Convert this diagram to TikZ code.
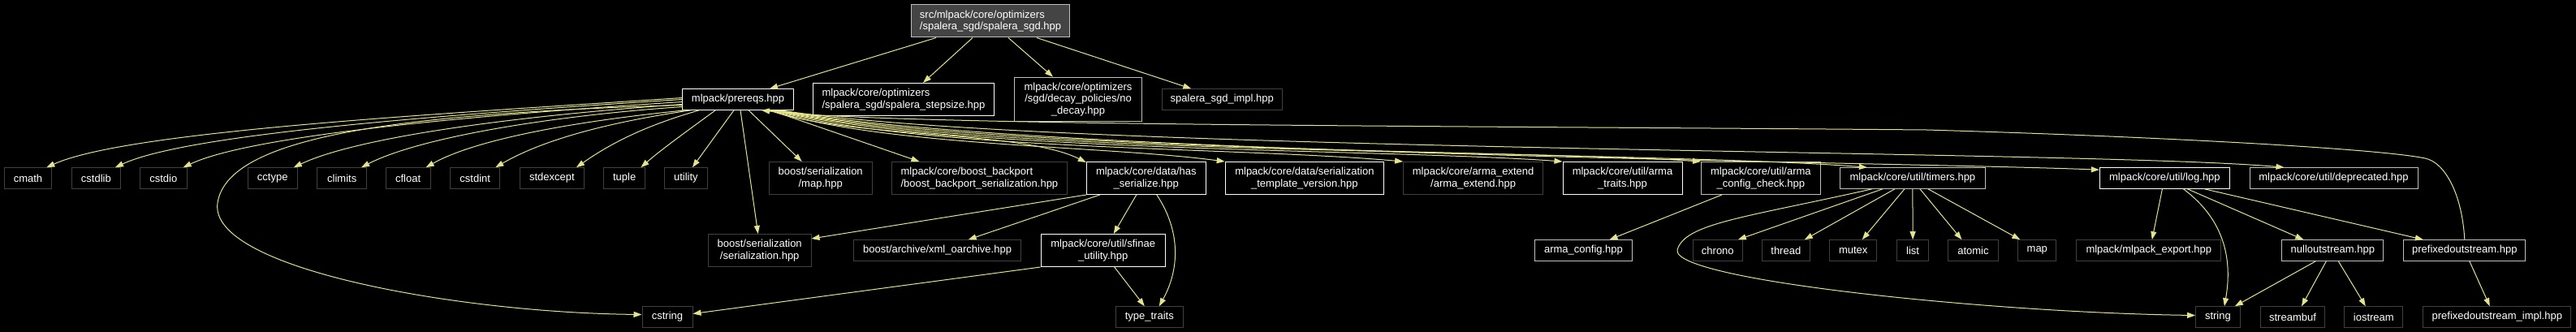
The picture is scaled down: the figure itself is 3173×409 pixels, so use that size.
\documentclass[tikz,border=0pt]{standalone}
\usepackage{fontspec}
\usetikzlibrary{arrows.meta}
\newfontfamily\incfont{Liberation Sans}
\definecolor{edgecol}{RGB}{228,228,142}
\definecolor{litgray}{RGB}{191,191,191}
\definecolor{drkgray}{RGB}{64,64,64}
\definecolor{topfill}{RGB}{68,68,68}
\tikzset{
  box/.style={draw, line width=1pt, text=white, align=center, inner sep=0pt,
    minimum height=25.6pt, font={\incfont\fontsize{13pt}{14.4pt}\selectfont}},
  docbox/.style={box, draw=white},
  grybox/.style={box, draw=litgray},
  sysbox/.style={box, draw=drkgray},
  topbox/.style={box, draw=litgray, fill=topfill},
  two/.style={minimum height=40pt},
  three/.style={minimum height=54.7pt},
  incl/.style={draw=edgecol, line width=1pt, -{Triangle[length=10pt,width=7pt]}}
}
\begin{document}
\begin{tikzpicture}[x=1pt,y=-1pt]
\fill[black] (0,0) rectangle (3173,409);
\node[topbox, two, align=left, minimum width=194.5] (spalera) at (1220,26) {src/mlpack/core/optimizers\\/spalera\_sgd/spalera\_sgd.hpp};

\node[docbox, minimum width=136.5] (prereqs) at (909,122.5) {mlpack/prereqs.hpp};
\node[docbox, two, align=left, minimum width=222.5] (stepsize) at (1113,122.5) {mlpack/core/optimizers\\/spalera\_sgd/spalera\_stepsize.hpp};
\node[grybox, three, minimum width=157.6] (nodecay) at (1328,122.5) {mlpack/core/optimizers\\/sgd/decay\_policies/no\\\_decay.hpp};
\node[sysbox, minimum width=147.4] (impl) at (1505.3,122.5) {spalera\_sgd\_impl.hpp};

\node[sysbox, minimum width=58.7] (cmath) at (34.5,219.5) {cmath};
\node[sysbox, minimum width=60.2] (cstdlib) at (118.4,219.5) {cstdlib};
\node[sysbox, minimum width=57.7] (cstdio) at (201.3,219.5) {cstdio};
\node[sysbox, minimum width=61.2] (cctype) at (335.7,219.5) {cctype};
\node[sysbox, minimum width=60.7] (climits) at (421.2,219.5) {climits};
\node[sysbox, minimum width=55.1] (cfloat) at (502.6,219.5) {cfloat};
\node[sysbox, minimum width=61.2] (cstdint) at (585.2,219.5) {cstdint};
\node[sysbox, minimum width=79.1] (stdexcept) at (679.9,219.5) {stdexcept};
\node[sysbox, minimum width=51.5] (tuple) at (769.2,219.5) {tuple};
\node[sysbox, minimum width=53] (utility) at (844.9,219.5) {utility};
\node[sysbox, two, minimum width=126.6] (sermap) at (1010.7,219.5) {boost/serialization\\/map.hpp};
\node[sysbox, two, align=left, minimum width=215.8] (backport) at (1206.4,219.5) {mlpack/core/boost\_backport\\/boost\_backport\_serialization.hpp};
\node[docbox, two, minimum width=146.9] (hasser) at (1411.8,219.5) {mlpack/core/data/has\\\_serialize.hpp};
\node[docbox, two, minimum width=195.4] (tmplver) at (1606.9,219.5) {mlpack/core/data/serialization\\\_template\_version.hpp};
\node[sysbox, two, minimum width=171.9] (armaext) at (1814.6,219.5) {mlpack/core/arma\_extend\\/arma\_extend.hpp};
\node[docbox, two, minimum width=147] (armatraits) at (1998.5,219.5) {mlpack/core/util/arma\\\_traits.hpp};
\node[grybox, two, minimum width=146.9] (armacfgchk) at (2168.9,219.5) {mlpack/core/util/arma\\\_config\_check.hpp};
\node[grybox, minimum width=179.1] (timers) at (2355.9,219.5) {mlpack/core/util/timers.hpp};
\node[docbox, minimum width=160.2] (log) at (2666.4,219.5) {mlpack/core/util/log.hpp};
\node[grybox, minimum width=207] (deprecated) at (2874.5,219.5) {mlpack/core/util/deprecated.hpp};

\node[sysbox, two, minimum width=126.6] (serhpp) at (935.7,308.5) {boost/serialization\\/serialization.hpp};
\node[sysbox, minimum width=206.2] (xmloarch) at (1154.6,308.5) {boost/archive/xml\_oarchive.hpp};
\node[docbox, two, minimum width=153.1] (sfinae) at (1358.7,308.5) {mlpack/core/util/sfinae\\\_utility.hpp};
\node[grybox, minimum width=119.4] (armacfg) at (1950.5,308.5) {arma\_config.hpp};
\node[sysbox, minimum width=61.2] (chrono) at (2115.8,308.5) {chrono};
\node[sysbox, minimum width=58.7] (thread) at (2199.8,308.5) {thread};
\node[sysbox, minimum width=58.1] (mutex) at (2282.7,308.5) {mutex};
\node[sysbox, minimum width=38.8] (list) at (2356.1,308.5) {list};
\node[sysbox, minimum width=61.8] (atomic) at (2430.4,308.5) {atomic};
\node[sysbox, minimum width=46.9] (stdmap) at (2509.3,308.5) {map};
\node[sysbox, minimum width=178.1] (mlexport) at (2646.8,308.5) {mlpack/mlpack\_export.hpp};
\node[grybox, minimum width=125] (nullout) at (2873.3,308.5) {nulloutstream.hpp};
\node[grybox, minimum width=150] (prefixout) at (3035.8,308.5) {prefixedoutstream.hpp};

\node[sysbox, minimum width=62] (cstring) at (822,390.5) {cstring};
\node[sysbox, minimum width=82.6] (typetraits) at (1415.8,390.5) {type\_traits};
\node[sysbox, minimum width=54.6] (string) at (2731.9,390.5) {string};
\node[sysbox, minimum width=79.6] (streambuf) at (2824,390.5) {streambuf};
\node[sysbox, minimum width=71.9] (iostream) at (2923.8,390.5) {iostream};
\node[sysbox, minimum width=182.2] (prefiximpl) at (3075.8,390.5) {prefixedoutstream\_impl.hpp};

\draw[incl] ([xshift=-67pt]spalera.south) -- ([xshift=39pt]prereqs.north);
\draw[incl] ([xshift=-22pt]spalera.south) -- ([xshift=24pt]stepsize.north);
\draw[incl] ([xshift=22pt]spalera.south) -- ([xshift=-31pt]nodecay.north);
\draw[incl] ([xshift=57pt]spalera.south) -- ([xshift=-38pt]impl.north);

\draw[incl] ([yshift=2pt]prereqs.west) .. controls +(-300,20) and +(100,-45) .. ([xshift=-7pt]cmath.north east);
\draw[incl] (prereqs.west) .. controls +(-280,18) and +(90,-42) .. ([xshift=-7pt]cstdlib.north east);
\draw[incl] ([yshift=-3pt]prereqs.west) .. controls +(-250,16) and +(85,-40) .. ([xshift=-5pt]cstdio.north east);
\draw[incl] ([yshift=-6pt]prereqs.west) .. controls +(-200,14) and +(80,-38) .. ([xshift=-5pt]cctype.north east);
\draw[incl] ([yshift=-9pt]prereqs.west) .. controls +(-170,12) and +(70,-36) .. ([xshift=-7pt]climits.north east);
\draw[incl] ([xshift=4pt]prereqs.south west) .. controls +(-140,14) and +(60,-34) .. ([xshift=-6pt]cfloat.north east);
\draw[incl] ([xshift=11pt]prereqs.south west) .. controls +(-110,16) and +(55,-32) .. ([xshift=-6pt]cstdint.north east);
\draw[incl] ([xshift=21pt]prereqs.south west) .. controls +(-70,20) and +(40,-28) .. ([xshift=-10pt]stdexcept.north east);
\draw[incl] ([xshift=41pt]prereqs.south west) .. controls +(-30,22) and +(25,-22) .. ([xshift=-6pt]tuple.north east);
\draw[incl] ([xshift=-5pt]prereqs.south) -- ([xshift=8pt]utility.north);
\draw[incl] ([yshift=-7pt]prereqs.west) .. controls (480,140) and (280,170) .. (268,250) .. controls (256,330) and (560,385) .. ([yshift=3pt]cstring.west);
\draw[incl] ([xshift=3pt]prereqs.south) -- ([xshift=-2pt]serhpp.north);
\draw[incl] ([xshift=13pt]prereqs.south) -- ([xshift=-23pt]sermap.north);
\draw[incl] ([xshift=40pt]prereqs.south) -- ([xshift=-74pt]backport.north);
\draw[incl] ([xshift=38pt]prereqs.south) .. controls +(100,35) and +(-80,-40) .. ([yshift=-1pt]hasser.north west);
\draw[incl] ([xshift=40pt]prereqs.south) .. controls +(140,45) and +(-150,-20) .. (tmplver.north west);
\draw[incl] ([xshift=42pt]prereqs.south) .. controls +(180,50) and +(-200,-18) .. (armaext.north west);
\draw[incl] ([xshift=44pt]prereqs.south) .. controls +(210,52) and +(-220,-16) .. (armatraits.north west);
\draw[incl] ([xshift=46pt]prereqs.south) .. controls +(240,54) and +(-250,-16) .. (armacfgchk.north west);
\draw[incl] ([xshift=48pt]prereqs.south) .. controls +(270,55) and +(-250,-20) .. ([xshift=-56pt]timers.north);
\draw[incl] ([xshift=50pt]prereqs.south) .. controls +(300,55) and +(-250,-10) .. ([yshift=-3pt]log.north west);
\draw[incl] ([xshift=52pt]prereqs.south) .. controls +(330,52) and +(-250,-22) .. ([xshift=43pt]deprecated.north west);

\draw[incl] (hasser.south west) -- ([yshift=-6pt]serhpp.north east);
\draw[incl] ([xshift=-57pt]hasser.south) -- ([xshift=38pt]xmloarch.north);
\draw[incl] ([xshift=-12pt]hasser.south) -- ([xshift=13pt]sfinae.north);
\draw[incl] ([xshift=13pt]hasser.south) .. controls +(30,45) and +(25,-45) .. ([xshift=12pt]typetraits.north);
\draw[incl] (sfinae.south west) -- ([yshift=4pt]cstring.east);
\draw[incl] ([xshift=14pt]sfinae.south) -- ([xshift=-6pt]typetraits.north);

\draw[incl] ([xshift=-48pt]armacfgchk.south) -- ([xshift=32pt]armacfg.north);

\draw[incl] ([xshift=-37pt]timers.south) -- ([xshift=25pt]chrono.north);
\draw[incl] ([xshift=-22pt]timers.south) -- ([xshift=23pt]thread.north);
\draw[incl] ([xshift=-10pt]timers.south) -- ([xshift=11pt]mutex.north);
\draw[incl] (timers.south) -- (list.north);
\draw[incl] ([xshift=9pt]timers.south) -- ([xshift=-14pt]atomic.north);
\draw[incl] ([xshift=19pt]timers.south) -- ([xshift=-21pt]stdmap.north);
\draw[incl] ([xshift=-50pt]timers.south) .. controls (2150,268) and (2075,275) .. (2066,308) .. controls (2060,345) and (2450,385) .. ([yshift=2pt]string.west);

\draw[incl] ([xshift=-3pt]log.south) -- ([xshift=4pt]mlexport.north);
\draw[incl] ([xshift=23pt]log.south) .. controls +(51,38) and +(10,-57) .. ([xshift=8pt]string.north);
\draw[incl] ([xshift=28pt]log.south) -- ([xshift=-36pt]nullout.north);
\draw[incl] ([xshift=49pt]log.south) -- ([xshift=-51pt]prefixout.north);

\draw[incl] ([xshift=-21pt]nullout.south) -- ([xshift=21pt]string.north);
\draw[incl] ([xshift=-8pt]nullout.south) -- ([xshift=11pt]streambuf.north);
\draw[incl] ([xshift=7pt]nullout.south) -- ([xshift=-10pt]iostream.north);

\draw[incl] ([xshift=6pt]prefixout.south) -- ([xshift=-9pt]prefiximpl.north);
\draw[incl] (prefixout.north) .. controls +(-3,-55) and (3012,200) .. (2987,195) .. controls (2930,183) and (2650,168) .. (2373,160) .. controls (1800,155) and (1100,155) .. ([xshift=29pt]prereqs.south);
\end{tikzpicture}
\end{document}
